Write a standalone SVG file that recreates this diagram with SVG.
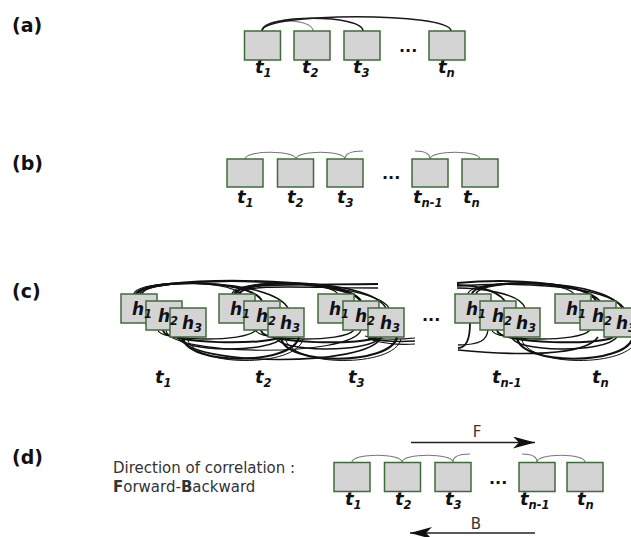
<svg xmlns="http://www.w3.org/2000/svg" width="631" height="537" viewBox="0 0 631 537">
<defs>
<style>
.box{fill:#d4d4d4;stroke:#3f6b3a;stroke-width:1.5}
.lab{font-family:"DejaVu Sans",sans-serif;font-weight:bold;font-size:19px;fill:#111}
.t{font-family:"DejaVu Sans",sans-serif;font-weight:bold;font-style:italic;font-size:18px;fill:#111}
.h{font-family:"DejaVu Sans",sans-serif;font-weight:bold;font-style:italic;font-size:17px;fill:#111}
.sub{font-size:11.5px}
.dots{font-family:"DejaVu Sans",sans-serif;font-weight:bold;font-size:16px;fill:#111}
.arcA{fill:none;stroke:#1a1a1a;stroke-width:1.6}
.arcL{fill:none;stroke:#888;stroke-width:1.1}
.arcB{fill:none;stroke:#777;stroke-width:1.1}
.arcC{fill:none;stroke:#111}
.txt{font-family:"DejaVu Sans",sans-serif;font-size:15px;fill:#333}
.arrow{stroke:#222;stroke-width:1.6;fill:none}
</style>
<marker id="ah" markerWidth="24" markerHeight="14" refX="22" refY="6" orient="auto" markerUnits="userSpaceOnUse">
<path d="M0 0 L22 6 L0 12 L6 6 Z" fill="#111"/>
</marker>
<g id="upPair" class="arcC">
<path d="M13 0 C14 -14 108 -15 119 0" stroke-width="1.2"/>
<path d="M17 0 C19 -15 130 -16 141 7" stroke-width="2"/>
<path d="M21 0 C24 -16 150 -16 167 14" stroke-width="1.5"/>
</g>
<g id="lowPair" class="arcC">
<path d="M37 36 C37 47 125 49 135 36" stroke-width="1.3"/>
<path d="M42 36 C43 51 150 51 158 43" stroke-width="2"/>
<path d="M57 43 C58 58 150 60 162 43" stroke-width="1.4"/>
<path d="M62 43 C64 72 172 72 178 43" stroke-width="2.2"/>
<path d="M66 43 C70 74 176 74 182 45" stroke-width="1"/>
</g>
</defs>

<text class="lab" x="12" y="32">(a)</text>
<text class="lab" x="12" y="170">(b)</text>
<text class="lab" x="12" y="298">(c)</text>
<text class="lab" x="12" y="464">(d)</text>

<g id="connectors">
<!-- (a) -->
<path class="arcL" d="M262 31 C262 17 313 18 313 31"/>
<path class="arcA" d="M262 31 C262 14 363 14 363 31"/>
<path class="arcA" d="M262 31 C262 12 451 12 451 31"/>
<!-- (b) -->
<path class="arcB" d="M245 159 C245 150 296 150 296 159"/>
<path class="arcB" d="M296 159 C296 150 345 150 345 159"/>
<path class="arcB" d="M345 159 C345 153 352 151 363 151"/>
<path class="arcB" d="M415 151 C424 151 430 153 430 159"/>
<path class="arcB" d="M430 159 C430 150 480 150 480 159"/>
<!-- (c) upper -->
<use href="#upPair" transform="translate(121,294)"/>
<use href="#upPair" transform="translate(219,294)"/>
<use href="#upPair" transform="translate(455,294)"/>
<g class="arcC">
<path d="M136 294 C139 276 346 275 361 301" stroke-width="2.2"/>
<path d="M140 294 C143 275 371 276 389 308" stroke-width="1.4"/>
<path d="M234 294 C237 282 300 285 378 284" stroke-width="1.8"/>
<path d="M238 294 C243 283 310 288 378 288" stroke-width="1.4"/>
<path d="M457 285 C470 285 495 288 505 301" stroke-width="2"/>
<path d="M457 288 C475 288 520 292 525 308" stroke-width="1.4"/>
<path d="M457 283 C500 279 580 280 600 301" stroke-width="1.8"/>
<path d="M457 286 C510 282 605 284 624 308" stroke-width="1.4"/>
</g>
<!-- (c) lower -->
<use href="#lowPair" transform="translate(121,294)"/>
<use href="#lowPair" transform="translate(219,294)"/>
<use href="#lowPair" transform="translate(455,294)"/>
<g class="arcC">
<path d="M181 337 C183 366 370 368 381 337" stroke-width="1.6"/>
<path d="M166 330 C167 356 352 358 361 330" stroke-width="1.2"/>
<path d="M365 336 C380 340 395 340 415 338" stroke-width="1.2"/>
<path d="M368 338 C385 342 400 342 415 341" stroke-width="1.6"/>
<path d="M372 340 C390 345 402 345 415 344" stroke-width="1.2"/>
<path d="M458 348 C466 348 470 340 470 323" stroke-width="1.8"/>
<path d="M458 345 C480 345 487 340 488 330" stroke-width="1.3"/>
<path d="M458 350 C520 356 585 356 598 337" stroke-width="1.6"/>
</g>
<!-- (d) -->
<path class="arcB" d="M352 462 C352 453 402 453 402 462"/>
<path class="arcB" d="M402 462 C402 453 453 453 453 462"/>
<path class="arcB" d="M453 462 C453 456 460 454 470 454"/>
<path class="arcB" d="M522 454 C531 454 537 456 537 462"/>
<path class="arcB" d="M537 462 C537 453 585 453 585 462"/>
<line class="arrow" x1="411" y1="442.5" x2="535" y2="442.5" marker-end="url(#ah)"/>
<line class="arrow" x1="535" y1="533" x2="410" y2="533" marker-end="url(#ah)"/>
</g>

<!-- (a) nodes -->
<g id="a-t1"><rect class="box" x="244.5" y="31" width="36" height="29"/><text class="t" x="255" y="73">t<tspan class="sub" dy="4">1</tspan></text></g>
<g id="a-t2"><rect class="box" x="294" y="31" width="36" height="29"/><text class="t" x="302" y="73">t<tspan class="sub" dy="4">2</tspan></text></g>
<g id="a-t3"><rect class="box" x="344" y="31" width="36" height="29"/><text class="t" x="353" y="73">t<tspan class="sub" dy="4">3</tspan></text></g>
<text class="dots" x="399" y="52">...</text>
<g id="a-tn"><rect class="box" x="429" y="31" width="36" height="29"/><text class="t" x="438" y="73">t<tspan class="sub" dy="4">n</tspan></text></g>

<!-- (b) nodes -->
<g id="b-t1"><rect class="box" x="227" y="159" width="36" height="28"/><text class="t" x="237" y="203">t<tspan class="sub" dy="4">1</tspan></text></g>
<g id="b-t2"><rect class="box" x="277.5" y="159" width="36" height="28"/><text class="t" x="287" y="203">t<tspan class="sub" dy="4">2</tspan></text></g>
<g id="b-t3"><rect class="box" x="327" y="159" width="36" height="28"/><text class="t" x="337" y="203">t<tspan class="sub" dy="4">3</tspan></text></g>
<text class="dots" x="382" y="179">...</text>
<g id="b-tn1"><rect class="box" x="412" y="159" width="36" height="28"/><text class="t" x="413" y="203">t<tspan class="sub" dy="4">n-1</tspan></text></g>
<g id="b-tn"><rect class="box" x="462" y="159" width="36" height="28"/><text class="t" x="463" y="203">t<tspan class="sub" dy="4">n</tspan></text></g>

<!-- (c) nodes -->
<g id="c-t1">
<rect class="box" x="121" y="294" width="36" height="29"/>
<rect class="box" x="146" y="301" width="36" height="29"/>
<rect class="box" x="170" y="308" width="36" height="29"/>
<text class="h" x="132" y="315">h<tspan class="sub" dy="3">1</tspan></text>
<text class="h" x="158" y="322">h<tspan class="sub" dy="3">2</tspan></text>
<text class="h" x="182" y="329">h<tspan class="sub" dy="3">3</tspan></text>
<text class="t" x="155" y="383">t<tspan class="sub" dy="4">1</tspan></text>
</g>
<g id="c-t2">
<rect class="box" x="219" y="294" width="36" height="29"/>
<rect class="box" x="244" y="301" width="36" height="29"/>
<rect class="box" x="268" y="308" width="36" height="29"/>
<text class="h" x="230" y="315">h<tspan class="sub" dy="3">1</tspan></text>
<text class="h" x="256" y="322">h<tspan class="sub" dy="3">2</tspan></text>
<text class="h" x="280" y="329">h<tspan class="sub" dy="3">3</tspan></text>
<text class="t" x="255" y="383">t<tspan class="sub" dy="4">2</tspan></text>
</g>
<g id="c-t3">
<rect class="box" x="318" y="294" width="36" height="29"/>
<rect class="box" x="343" y="301" width="36" height="29"/>
<rect class="box" x="368" y="308" width="36" height="29"/>
<text class="h" x="329" y="315">h<tspan class="sub" dy="3">1</tspan></text>
<text class="h" x="355" y="322">h<tspan class="sub" dy="3">2</tspan></text>
<text class="h" x="380" y="329">h<tspan class="sub" dy="3">3</tspan></text>
<text class="t" x="348" y="383">t<tspan class="sub" dy="4">3</tspan></text>
</g>
<text class="dots" x="422" y="321">...</text>
<g id="c-tn1">
<rect class="box" x="455" y="294" width="36" height="29"/>
<rect class="box" x="480" y="301" width="36" height="29"/>
<rect class="box" x="504" y="308" width="36" height="29"/>
<text class="h" x="466" y="315">h<tspan class="sub" dy="3">1</tspan></text>
<text class="h" x="492" y="322">h<tspan class="sub" dy="3">2</tspan></text>
<text class="h" x="516" y="329">h<tspan class="sub" dy="3">3</tspan></text>
<text class="t" x="492" y="383">t<tspan class="sub" dy="4">n-1</tspan></text>
</g>
<g id="c-tn">
<rect class="box" x="555" y="294" width="36" height="29"/>
<rect class="box" x="580" y="301" width="36" height="29"/>
<rect class="box" x="604" y="308" width="36" height="29"/>
<text class="h" x="566" y="315">h<tspan class="sub" dy="3">1</tspan></text>
<text class="h" x="592" y="322">h<tspan class="sub" dy="3">2</tspan></text>
<text class="h" x="616" y="329">h<tspan class="sub" dy="3">3</tspan></text>
<text class="t" x="592" y="383">t<tspan class="sub" dy="4">n</tspan></text>
</g>

<!-- (d) -->
<text class="txt" x="113" y="473">Direction of correlation :</text>
<text class="txt" x="113" y="492"><tspan font-weight="bold">F</tspan>orward-<tspan font-weight="bold">B</tspan>ackward</text>
<text class="txt" x="477" y="437" text-anchor="middle">F</text>
<text class="txt" x="476" y="529" text-anchor="middle">B</text>
<g id="d-t1"><rect class="box" x="334" y="462.5" width="36" height="29"/><text class="t" x="345" y="505">t<tspan class="sub" dy="4">1</tspan></text></g>
<g id="d-t2"><rect class="box" x="384.5" y="462.5" width="36" height="29"/><text class="t" x="395" y="505">t<tspan class="sub" dy="4">2</tspan></text></g>
<g id="d-t3"><rect class="box" x="435" y="462.5" width="36" height="29"/><text class="t" x="445" y="505">t<tspan class="sub" dy="4">3</tspan></text></g>
<text class="dots" x="489" y="484">...</text>
<g id="d-tn1"><rect class="box" x="519" y="462.5" width="36" height="29"/><text class="t" x="520" y="505">t<tspan class="sub" dy="4">n-1</tspan></text></g>
<g id="d-tn"><rect class="box" x="567" y="462.5" width="36" height="29"/><text class="t" x="577" y="505">t<tspan class="sub" dy="4">n</tspan></text></g>
</svg>
